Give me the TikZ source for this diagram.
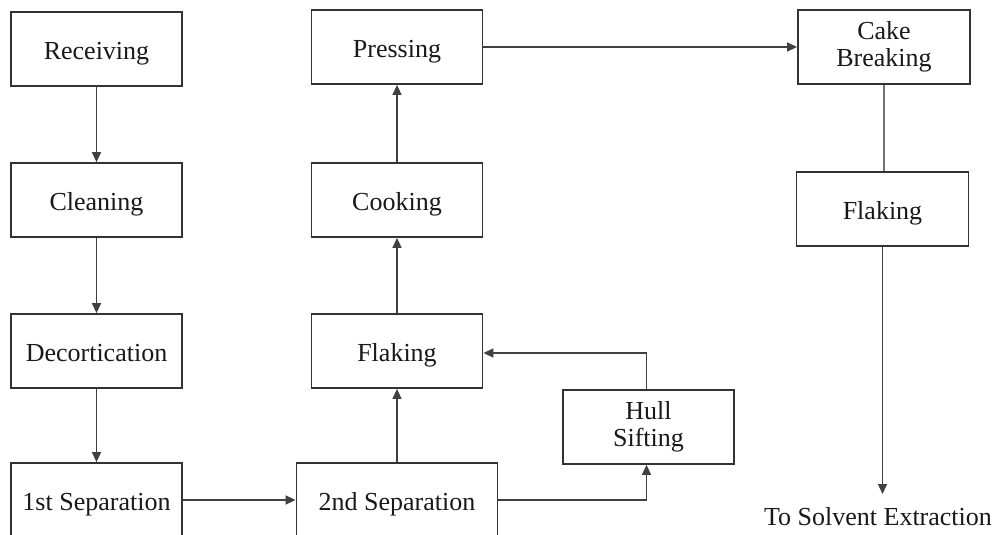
\documentclass[tikz,border=0pt]{standalone}
\usepackage{fontspec}
\setmainfont{Liberation Serif}
\usetikzlibrary{arrows.meta}
\begin{document}
\begin{tikzpicture}[x=1pt,y=-1pt,
  stagebox/.style={draw=black!80, line width=1.8pt, fill=white, minimum width=171pt,
    minimum height=74pt, inner sep=0pt,
    font=\fontsize{26}{27}\selectfont, text=black!90},
  oneline/.style={stagebox, text height=22pt, text depth=1pt},
  twoline/.style={stagebox, align=center},
  flow/.style={draw=black!75, line width=1.4pt, -{Triangle[length=10pt,width=9pt]}},
  plainline/.style={draw=black!55, line width=1.4pt}]
\useasboundingbox (0,0) rectangle (998,535);
\clip (0,0) rectangle (998,535);
\fill[white] (0,0) rectangle (998,535);

% left column
\node[oneline] (recv) at (96.5,49) {Receiving};
\node[oneline] (clean) at (96.5,200) {Cleaning};
\node[oneline] (decort) at (96.5,351) {Decortication};
\node[oneline] (sepA) at (96.5,500) {1st Separation};

% middle column
\node[oneline] (press) at (397,47) {Pressing};
\node[oneline] (cook) at (397,200) {Cooking};
\node[oneline] (flakeA) at (397,351) {Flaking};
\node[oneline, minimum width=201pt] (sepB) at (397,500) {2nd Separation};
\node[twoline] (hull) at (648.5,427) {Hull\\Sifting};

% right column
\node[twoline, minimum width=172pt] (cake) at (884,47) {Cake\\Breaking};
\node[oneline, minimum width=172pt] (flakeB) at (882.5,209) {Flaking};
\node[font=\fontsize{26}{27}\selectfont, text=black!90, inner sep=0pt] (solv) at (878,517) {To Solvent Extraction};
\coordinate (solvtip) at (882.5,494);

% connectors
\draw[flow] (recv) -- (clean);
\draw[flow] (clean) -- (decort);
\draw[flow] (decort) -- (sepA);
\draw[flow] (sepA) -- (sepB);
\draw[flow] (sepB) -- (flakeA);
\draw[flow] (flakeA) -- (cook);
\draw[flow] (cook) -- (press);
\draw[flow] (press) -- (press -| cake.west);
\draw[flow] (sepB.east) -| ([xshift=-2pt]hull.south);
\draw[flow] ([xshift=-2pt]hull.north) |- ([yshift=-2pt]flakeA.east);
\draw[plainline] (cake) -- (cake |- flakeB.north);
\draw[flow] (flakeB.south) -- (solvtip);
\end{tikzpicture}
\end{document}
